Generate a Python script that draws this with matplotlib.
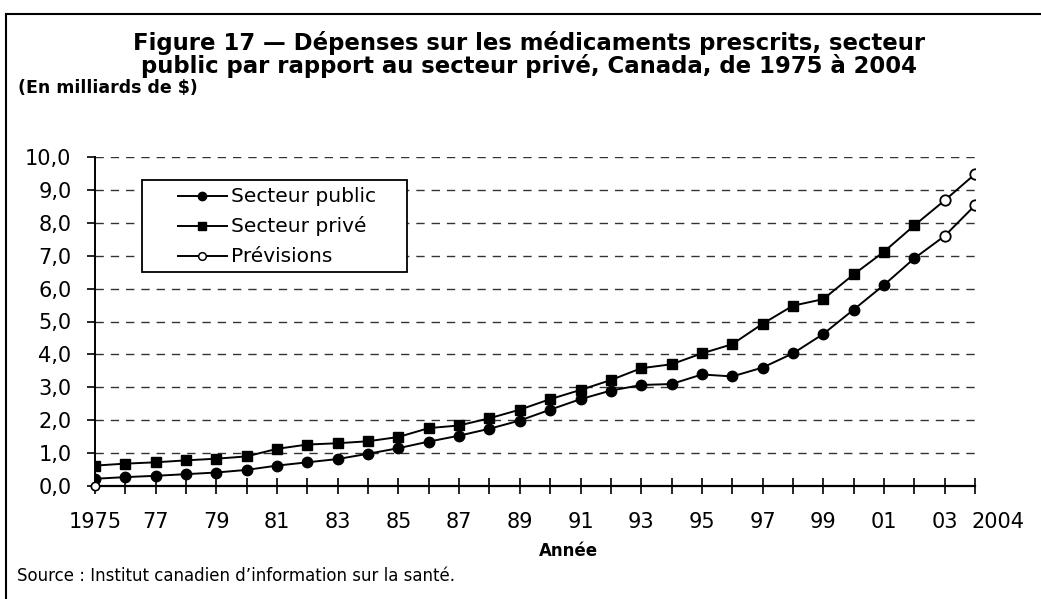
import matplotlib
matplotlib.use("Agg")
import matplotlib.pyplot as plt
import matplotlib.transforms as mtransforms
from matplotlib.lines import Line2D
from matplotlib.patches import Rectangle

# Données (en milliards de $)
annees = list(range(1975, 2003))
public = [0.22, 0.27, 0.31, 0.36, 0.41, 0.49, 0.62, 0.72, 0.82, 0.98,
          1.15, 1.35, 1.53, 1.74, 1.99, 2.32, 2.64, 2.90, 3.07, 3.10,
          3.39, 3.33, 3.60, 4.03, 4.62, 5.36, 6.11, 6.92]
prive = [0.62, 0.68, 0.72, 0.78, 0.83, 0.90, 1.13, 1.26, 1.30, 1.36,
         1.49, 1.76, 1.84, 2.06, 2.32, 2.64, 2.92, 3.22, 3.58, 3.70,
         4.03, 4.31, 4.93, 5.48, 5.68, 6.43, 7.12, 7.92]
annees_prev = [2003, 2004]
prev_public = [7.60, 8.53]
prev_prive = [8.68, 9.48]

x_ticks = list(range(1975, 2005))
x_labels = ["1975", "77", "79", "81", "83", "85", "87", "89", "91",
            "93", "95", "97", "99", "01", "03", "2004"]
x_label_pos = list(range(1975, 2004, 2)) + [2004]
legende = ["Secteur public", "Secteur privé", "Prévisions"]

plt.rcParams['font.family'] = ['DejaVu Sans']

W, H = 1041, 599
fig = plt.figure(figsize=(W / 100, H / 100), dpi=100)
ax = fig.add_axes([95 / W, 1 - 486 / H, 880 / W, 329 / H])

lw = 1.4
ms = 7.5
# lignes de prévision reliées au dernier point observé
ax.plot([annees[-1]] + annees_prev, [public[-1]] + prev_public, color='black', lw=lw, zorder=2)
ax.plot([annees[-1]] + annees_prev, [prive[-1]] + prev_prive, color='black', lw=lw, zorder=2)
ax.plot(annees, public, color='black', lw=lw, marker='o', ms=ms, zorder=3)
ax.plot(annees, prive, color='black', lw=lw, marker='s', ms=ms, zorder=3)
ax.plot(annees_prev, prev_public, ls='none', marker='o', ms=ms, mfc='white', mec='black', mew=1.3, zorder=4)
ax.plot(annees_prev, prev_prive, ls='none', marker='o', ms=ms, mfc='white', mec='black', mew=1.3, zorder=4)
ax.plot([1975], [0], ls='none', marker='o', ms=6, mfc='white', mec='black', mew=1.2, zorder=5, clip_on=False)

ax.set_xlim(1975, 2004)
ax.set_ylim(0, 10)
ax.set_yticks(range(0, 11))
ax.set_yticklabels([f"{v},0" for v in range(0, 11)], fontsize=15)
ax.set_xticks(x_ticks, minor=True)
ax.set_xticks(x_label_pos)
ax.set_xticklabels(x_labels, fontsize=15)
ax.tick_params(axis='x', which='both', direction='inout', length=11, width=1.2, pad=13.5)
ax.tick_params(axis='y', direction='out', length=6, width=1.2, pad=11)
# « 2004 » décalé à droite comme dans l'original
lab = ax.get_xticklabels()[-1]
lab.set_transform(lab.get_transform() + mtransforms.ScaledTranslation(0.23, 0, fig.dpi_scale_trans))

for v in range(1, 11):
    ax.axhline(v, color='#333333', lw=1, ls=(0, (6, 5)), zorder=1)

for s in ['top', 'right']:
    ax.spines[s].set_visible(False)
ax.spines['left'].set_linewidth(1.4)
ax.spines['bottom'].set_linewidth(1.6)

# légende dessinée à la main (cadre plus large que le texte)
ft = fig.transFigure
fig.add_artist(Rectangle((142 / W, 1 - 272 / H), 265 / W, 92 / H, transform=ft,
                         facecolor='white', edgecolor='black', lw=1.3, zorder=5))
styles = [dict(marker='o', ms=6, mfc='black'),
          dict(marker='s', ms=6, mfc='black'),
          dict(marker='o', ms=5.5, mfc='white', mew=1.1)]
for i, (txt, st) in enumerate(zip(legende, styles)):
    yy = 1 - (196 + 30 * i) / H
    fig.add_artist(Line2D([178 / W, 227 / W], [yy, yy], color='black', lw=lw,
                          transform=ft, zorder=6))
    fig.add_artist(Line2D([202 / W], [yy], color='black', ls='none', mec='black',
                          transform=ft, zorder=7, **st))
    fig.text(231 / W, yy, txt, ha='left', va='center', fontsize=14.5, zorder=7)

fig.text(529 / W, 1 - 43 / H, "Figure 17 \u2014 Dépenses sur les médicaments prescrits, secteur",
         ha='center', va='center', fontsize=16.4, fontweight='bold')
fig.text(529 / W, 1 - 66 / H, "public par rapport au secteur privé, Canada, de 1975 à 2004",
         ha='center', va='center', fontsize=16.4, fontweight='bold')
fig.text(18 / W, 1 - 88 / H, "(En milliards de $)", ha='left', va='center',
         fontsize=12.5, fontweight='bold')
fig.text(568 / W, 1 - 551 / H, "Année", ha='center', va='center', fontsize=12, fontweight='bold')
fig.text(17 / W, 1 - 576 / H, "Source : Institut canadien d\u2019information sur la santé.",
         ha='left', va='center', fontsize=12)

# cadre
fig.add_artist(Line2D([6 / W, 6 / W], [0, 1 - 14 / H], color='black', lw=1.5, transform=ft))
fig.add_artist(Line2D([6 / W, 1], [1 - 14 / H, 1 - 14 / H], color='black', lw=1.5, transform=ft))

fig.savefig("out.png", dpi=100)
